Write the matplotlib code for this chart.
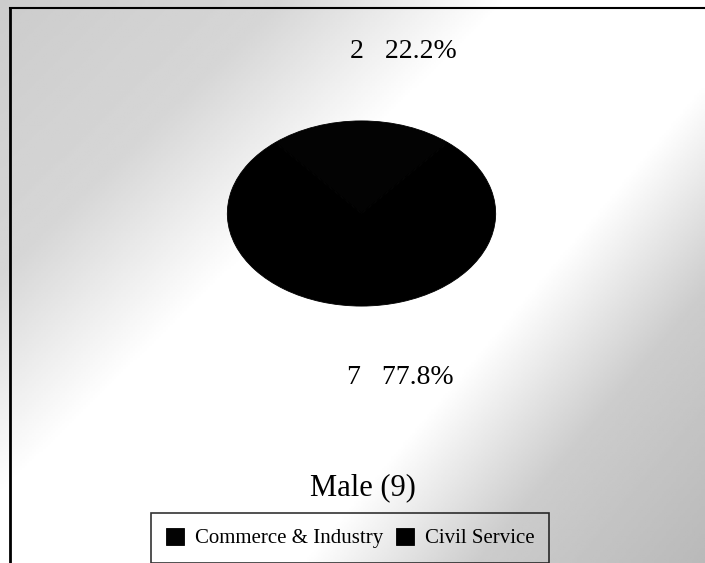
import matplotlib.pyplot as plt
import numpy as np
from matplotlib.lines import Line2D

# data
categories = ["Commerce & Industry", "Civil Service"]
counts = [2, 7]
title = "Male (9)"
colors = ["#030303", "#000000"]

W, H = 705, 563
fig = plt.figure(figsize=(W / 100, H / 100), dpi=100)
plt.rcParams['font.family'] = ['Liberation Serif', 'DejaVu Serif']

# background: grey slide gradient with a white diagonal band
bg = fig.add_axes([0, 0, 1, 1])
u = np.linspace(0, 1, 300)
v = np.linspace(0, 1, 240)
uu, vv = np.meshgrid(u, v)
upper = np.interp(uu + 0.82 * vv, [0, 0.4, 0.72], [0.8, 0.84, 1.0])
lower = np.interp(uu + 0.67 * vv, [1.1, 1.35, 1.7], [1.0, 0.8, 0.72])
shade = np.minimum(upper, lower)
bg.imshow(shade, cmap='gray', vmin=0, vmax=1, extent=[0, 1, 0, 1], aspect='auto', origin='upper')
bg.set_xlim(0, 1)
bg.set_ylim(0, 1)
bg.axis('off')

# frame lines (top and left)
fig.add_artist(Line2D([10 / W, 1], [1 - 8 / H, 1 - 8 / H], color='black', lw=1.5))
fig.add_artist(Line2D([10 / W, 10 / W], [0, 1 - 8 / H], color='black', lw=2))

# pie (flattened ellipse)
ax = fig.add_axes([226 / W, 1 - 307 / H, 271 / W, 187 / H])
total = sum(counts)
start = 90 - 360 * counts[0] / total / 2
wedges, _ = ax.pie(counts, colors=colors, startangle=start, radius=1.0,
                   wedgeprops=dict(linewidth=0.6, edgecolor='#000000'))
ax.set_aspect('auto')
ax.set_xlim(-1.01, 1.01)
ax.set_ylim(-1.01, 1.01)

# data labels
labels = ["%d   %.1f%%" % (c, 100 * c / total) for c in counts]
fig.text(403 / W, 1 - 52 / H, labels[0], ha='center', va='center', fontsize=20)
fig.text(400 / W, 1 - 378 / H, labels[1], ha='center', va='center', fontsize=20)

# title
fig.text(363 / W, 1 - 488 / H, title, ha='center', va='center', fontsize=22)

# legend
leg = fig.legend(wedges, categories, loc='center', ncol=2,
                 bbox_to_anchor=(350 / W, 1 - 538 / H), fontsize=15,
                 frameon=True, fancybox=False, edgecolor='black',
                 handlelength=0.9, handleheight=0.9, handletextpad=0.5,
                 columnspacing=0.6, borderpad=0.7)
leg.get_frame().set_linewidth(1.2)
leg.get_frame().set_facecolor('none')

fig.savefig("out.png", dpi=100)
